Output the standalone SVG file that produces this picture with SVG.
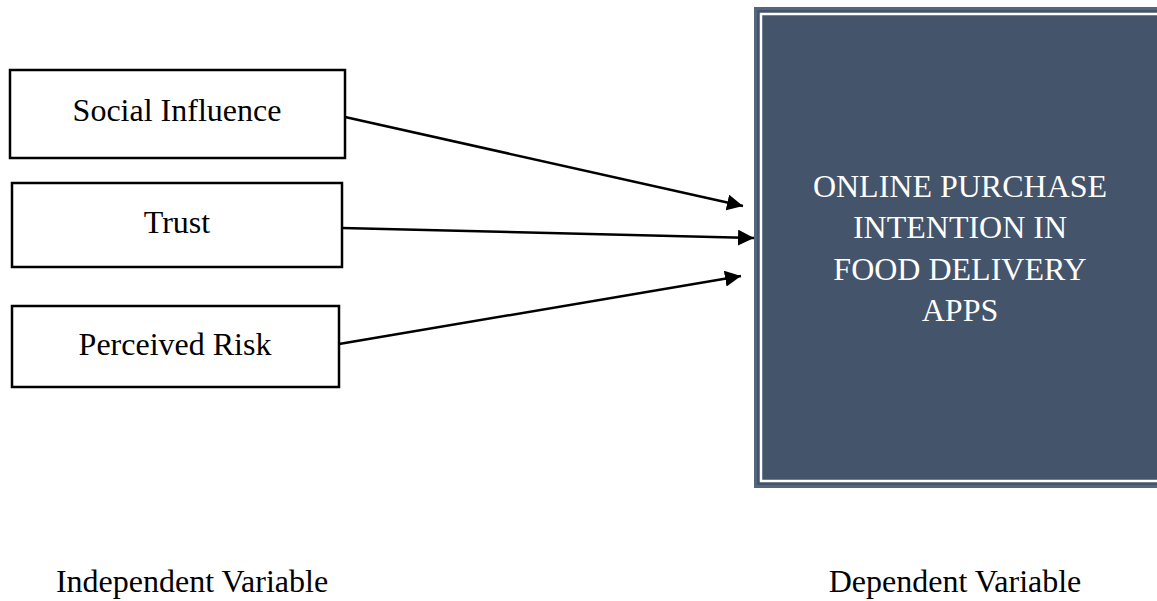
<svg xmlns="http://www.w3.org/2000/svg" width="1157" height="601" viewBox="0 0 1157 601">
<style>
.box{fill:#fff;stroke:#000;stroke-width:2.5}
.t{font-family:"Liberation Serif",serif;font-size:32px;fill:#000;text-anchor:middle}
.w{fill:#fff}
.c{stroke:#000;stroke-width:2.5;fill:none;marker-end:url(#ah)}
</style>
<defs>
<marker id="ah" viewBox="0 0 10 10" refX="10" refY="5" markerWidth="6.4" markerHeight="6.4" markerUnits="strokeWidth" orient="auto"><path d="M0,0L10,5L0,10z" fill="#000"/></marker>
</defs>
<rect width="1157" height="601" fill="#fff"/>
<g id="n1"><rect class="box" x="10" y="70" width="335" height="88"/><text class="t" x="177" y="121">Social Influence</text></g>
<g id="n2"><rect class="box" x="12" y="183" width="330" height="84"/><text class="t" x="177" y="233">Trust</text></g>
<g id="n3"><rect class="box" x="12" y="306" width="327" height="81"/><text class="t" x="175" y="355">Perceived Risk</text></g>
<g id="dv">
<rect x="754" y="7" width="410" height="481" fill="#55657d"/>
<rect x="757" y="10" width="410" height="475" fill="#44546a"/>
<rect x="761" y="14" width="410" height="467" fill="none" stroke="#fff" stroke-width="2.5"/>
<text class="t w" x="960" y="197">ONLINE PURCHASE</text>
<text class="t w" x="960" y="238">INTENTION IN</text>
<text class="t w" x="960" y="280">FOOD DELIVERY</text>
<text class="t w" x="960" y="321">APPS</text>
</g>
<g id="connectors">
<line class="c" x1="345" y1="117" x2="743" y2="206"/>
<line class="c" x1="342" y1="228" x2="754" y2="238"/>
<line class="c" x1="339" y1="344" x2="741" y2="276"/>
</g>
<text class="t" x="192" y="592">Independent Variable</text>
<text class="t" x="955" y="592">Dependent Variable</text>
</svg>
